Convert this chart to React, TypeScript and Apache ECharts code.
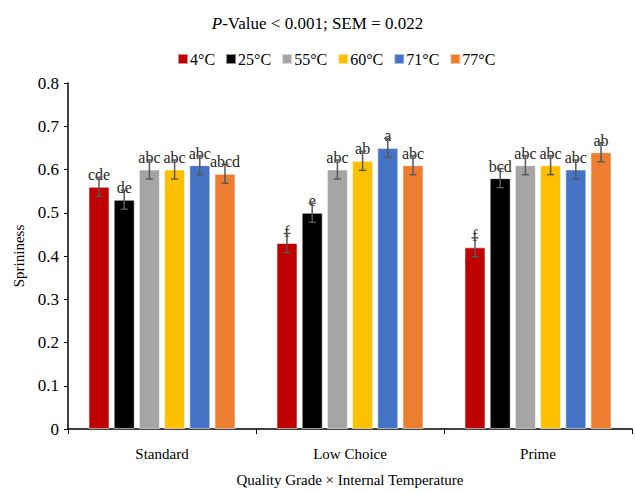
import React, { useEffect, useRef } from "react";
import * as echarts from "echarts";

const categories = ["Standard", "Low Choice", "Prime"];
const seriesNames = ["4°C", "25°C", "55°C", "60°C", "71°C", "77°C"];
const colors = ["#C00000", "#000000", "#A5A5A5", "#FFC000", "#4472C4", "#ED7D31"];
const values = [
  [0.56, 0.43, 0.42],
  [0.53, 0.5, 0.58],
  [0.6, 0.6, 0.61],
  [0.6, 0.62, 0.61],
  [0.61, 0.65, 0.6],
  [0.59, 0.61, 0.64],
];
const letters = [
  ["cde", "f", "f"],
  ["de", "e", "bcd"],
  ["abc", "abc", "abc"],
  ["abc", "ab", "abc"],
  ["abc", "a", "abc"],
  ["abcd", "abc", "ab"],
];
const sem = 0.022;

const FONT = "Liberation Serif";
const BAR_W = 21;
const GAP = 4.2;

export default function App() {
  const ref = useRef<HTMLDivElement>(null);
  useEffect(() => {
    if (!ref.current) return;
    const chart = echarts.init(ref.current, null, { renderer: "svg" });
    const n = seriesNames.length;
    const total = n * BAR_W + (n - 1) * GAP;
    const offsetOf = (i: number) => -total / 2 + i * (BAR_W + GAP) + BAR_W / 2;

    const barSeries = seriesNames.map((name, i) => ({
      name,
      type: "bar",
      data: values[i],
      barWidth: BAR_W,
      barGap: "20%",
      itemStyle: { color: colors[i], borderColor: "rgba(255,255,255,0.55)", borderWidth: 1 },
      label: {
        show: true,
        position: "top",
        distance: 4,
        fontFamily: FONT,
        fontSize: 16,
        color: "#262626",
        formatter: (p: any) => letters[i][p.dataIndex],
      },
      z: 3,
    }));

    const errSeries = seriesNames.map((name, i) => ({
      name: name + "_err",
      type: "custom",
      data: values[i].map((v, c) => [c, v]),
      encode: { x: 0, y: 1 },
      z: 4,
      silent: true,
      renderItem: (params: any, api: any) => {
        const c = api.value(0);
        const v = api.value(1);
        const hi = api.coord([c, v + sem]);
        const lo = api.coord([c, v - sem]);
        const x = hi[0] + offsetOf(i);
        const style = { stroke: "#595959", lineWidth: 1.5 };
        return {
          type: "group",
          children: [
            { type: "line", shape: { x1: x, y1: hi[1], x2: x, y2: lo[1] }, style },
            { type: "line", shape: { x1: x - 3.5, y1: hi[1], x2: x + 3.5, y2: hi[1] }, style },
            { type: "line", shape: { x1: x - 3.5, y1: lo[1], x2: x + 3.5, y2: lo[1] }, style },
          ],
        };
      },
    }));

    chart.setOption({
      animation: false,
      textStyle: { fontFamily: FONT },
      title: {
        text: "{i|P}{n|-Value < 0.001; SEM = 0.022}",
        left: "center",
        top: 10,
        textStyle: {
          fontWeight: "normal",
          rich: {
            i: { fontFamily: FONT, fontSize: 17, fontStyle: "italic", fontWeight: "normal", color: "#000" },
            n: { fontFamily: FONT, fontSize: 17, fontWeight: "normal", color: "#000" },
          },
        },
      },
      legend: {
        data: seriesNames,
        left: 172,
        top: 46,
        itemWidth: 10,
        itemHeight: 10,
        itemGap: 10,
        icon: "rect",
        textStyle: { fontFamily: FONT, fontSize: 16, color: "#000", padding: [0, 0, 0, -3] },
      },
      grid: { left: 68, right: 3, top: 83, bottom: 58 },
      xAxis: {
        type: "category",
        data: categories,
        name: "Quality Grade × Internal Temperature",
        nameLocation: "middle",
        nameGap: 43,
        nameTextStyle: { fontFamily: FONT, fontSize: 15, color: "#000" },
        axisLine: { lineStyle: { color: "#000", width: 1.5 } },
        axisTick: { show: true, length: 5, lineStyle: { color: "#000" } },
        axisLabel: {
          margin: 17,
          formatter: (v: string) => "{t|" + v + "}",
          rich: { t: { fontFamily: FONT, fontSize: 15, color: "#000" } },
        },
      },
      yAxis: {
        type: "value",
        min: 0,
        max: 0.8,
        interval: 0.1,
        name: "Sprininess",
        nameLocation: "middle",
        nameGap: 42,
        nameTextStyle: { fontFamily: FONT, fontSize: 15, color: "#000" },
        axisLine: { show: true, lineStyle: { color: "#000", width: 1.5 } },
        axisTick: { show: true, length: 4, lineStyle: { color: "#000" } },
        splitLine: { show: false },
        axisLabel: {
          margin: 9,
          formatter: (v: number) => "{t|" + (v === 0 ? "0" : String(Math.round(v * 10) / 10)) + "}",
          rich: { t: { fontFamily: FONT, fontSize: 17, color: "#000" } },
        },
      },
      series: [...barSeries, ...errSeries],
    });
    return () => chart.dispose();
  }, []);
  return (
    <div
      ref={ref}
      style={{ position: "absolute", left: 0, top: 0, width: 635, height: 492, background: "#fff" }}
    />
  );
}
